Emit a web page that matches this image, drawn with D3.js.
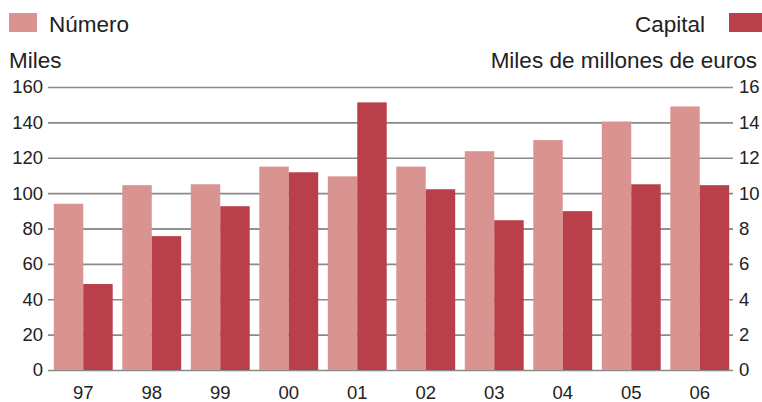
<!DOCTYPE html>
<html>
<head>
<meta charset="utf-8">
<script src="https://cdn.jsdelivr.net/npm/d3@7"></script>
<style>
  body { margin: 0; background: #fff; }
  text { font-family: 'Liberation Sans', Arial, sans-serif; fill: #222; }
</style>
</head>
<body>
<script>
// data
const years = ['97', '98', '99', '00', '01', '02', '03', '04', '05', '06'];
const numero = [94, 104.5, 105, 115, 109.5, 115, 123.7, 130, 140.5, 149];
const capital = [4.86, 7.57, 9.26, 11.18, 15.13, 10.22, 8.47, 8.98, 10.5, 10.45];
const leftTicks = [0, 20, 40, 60, 80, 100, 120, 140, 160];
const rightTicks = [0, 2, 4, 6, 8, 10, 12, 14, 16];

const width = 762;
const height = 402;
const margin = { top: 87, left: 48, bottom: 32, right: 29 };

const lightColor = '#d99491';
const darkColor = '#b9404b';

const svg = d3.select('body').append('svg').attr('width', width).attr('height', height);

// scales
const x = d3
  .scaleBand()
  .domain(years)
  .range([margin.left + 1, width - margin.right + 1])
  .paddingInner(0.14)
  .paddingOuter(0.07);

const sub = d3.scaleBand().domain(['n', 'c']).range([0, x.bandwidth()]);

const yLeft = d3.scaleLinear().domain([0, 160]).range([height - margin.bottom, margin.top]);
const yRight = d3.scaleLinear().domain([0, 16]).range([height - margin.bottom, margin.top]);

// grid + left axis
svg
  .append('g')
  .attr('transform', `translate(${margin.left}, 0)`)
  .call(d3.axisLeft(yLeft).tickValues(leftTicks).tickSize(-(width - margin.left - margin.right)).tickPadding(5))
  .call((g) => g.select('.domain').remove())
  .call((g) => g.selectAll('line').attr('stroke', (d) => (d === 80 ? '#222' : '#8a8a8a')).attr('stroke-width', (d) => (d === 80 ? 1 : 1.6)))
  .call((g) => g.selectAll('text').attr('font-size', 18.5).attr('font-family', null).attr('fill', '#222'));

// right axis
svg
  .append('g')
  .attr('transform', `translate(${width - margin.right}, 0)`)
  .call(d3.axisRight(yRight).tickValues(rightTicks).tickSize(0).tickPadding(6))
  .call((g) => g.select('.domain').remove())
  .call((g) => g.selectAll('text').attr('font-size', 18.5).attr('font-family', null).attr('fill', '#222'));

// bars
const groups = svg
  .append('g')
  .selectAll('g')
  .data(years)
  .enter()
  .append('g')
  .attr('transform', (d) => `translate(${x(d)}, 0)`);

groups
  .append('rect')
  .attr('x', sub('n'))
  .attr('y', (d, i) => yLeft(numero[i]))
  .attr('width', sub.bandwidth())
  .attr('height', (d, i) => yLeft(0) - yLeft(numero[i]))
  .attr('fill', lightColor);

groups
  .append('rect')
  .attr('x', sub('c'))
  .attr('y', (d, i) => yRight(capital[i]))
  .attr('width', sub.bandwidth())
  .attr('height', (d, i) => yRight(0) - yRight(capital[i]))
  .attr('fill', darkColor);

// x labels
svg
  .append('g')
  .attr('transform', `translate(0, ${height - margin.bottom})`)
  .call(d3.axisBottom(x).tickSize(0).tickPadding(16))
  .call((g) => g.select('.domain').remove())
  .call((g) => g.selectAll('text').attr('font-size', 18.5).attr('font-family', null).attr('fill', '#222'));

// legend + axis titles
svg.append('rect').attr('x', 9).attr('y', 13).attr('width', 28).attr('height', 19).attr('fill', lightColor);
svg.append('text').attr('x', 49).attr('y', 32).attr('font-size', 22.5).text('Número');
svg.append('rect').attr('x', 729).attr('y', 13).attr('width', 33).attr('height', 19).attr('fill', darkColor);
svg.append('text').attr('x', 705).attr('y', 32).attr('font-size', 22.5).attr('text-anchor', 'end').text('Capital');
svg.append('text').attr('x', 9).attr('y', 68).attr('font-size', 22.5).text('Miles');
svg.append('text').attr('x', 757).attr('y', 68).attr('font-size', 22.5).attr('text-anchor', 'end').text('Miles de millones de euros');
</script>
</body>
</html>
